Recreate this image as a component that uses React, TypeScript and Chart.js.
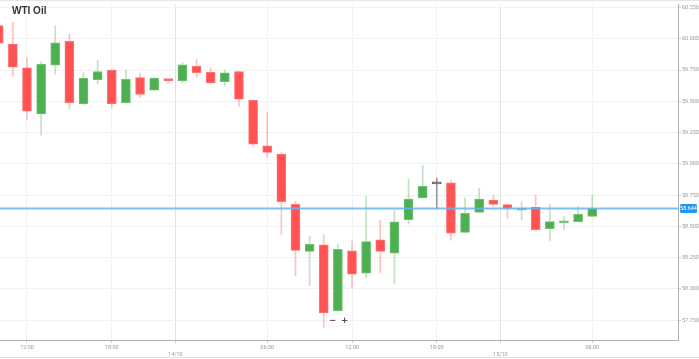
import React, { useEffect, useRef } from "react";
import { Chart, registerables } from "chart.js";

Chart.register(...registerables);

// ---- data (hourly candles, index-based x) ----
const candleIndex = [
  0, 1, 2, 3, 4, 5, 6, 7, 8, 9, 10, 11, 12, 13, 14, 15, 16, 17, 18, 19, 20, 21,
  22, 23, 24, 25, 26, 27, 28, 29, 30, 31, 32, 33, 34, 35, 36, 37, 38, 39, 40, 41, 42,
];
const opens = [
  60.105, 59.958, 59.769, 59.4, 59.789, 59.979, 59.479, 59.674, 59.75, 59.489, 59.69,
  59.589, 59.676, 59.663, 59.781, 59.732, 59.658, 59.739, 59.508, 59.145, 59.079, 58.676,
  58.3, 58.352, 57.827, 58.305, 58.126, 58.392, 58.287, 58.555, 58.727, 58.84, 58.849,
  58.453, 58.613, 58.711, 58.674, 58.63, 58.655, 58.482, 58.529, 58.539, 58.581,
];
const highs = [
  60.12, 60.132, 59.85, 59.816, 60.103, 60.039, 59.729, 59.829, 59.753, 59.75, 59.726,
  59.69, 59.68, 59.81, 59.834, 59.769, 59.75, 59.743, 59.513, 59.408, 59.09, 58.703,
  58.421, 58.434, 58.356, 58.382, 58.739, 58.55, 58.626, 58.879, 58.987, 58.887, 58.87,
  58.727, 58.805, 58.75, 58.678, 58.697, 58.75, 58.676, 58.579, 58.658, 58.75,
];
const lows = [
  59.955, 59.702, 59.35, 59.229, 59.718, 59.439, 59.475, 59.639, 59.45, 59.487, 59.532,
  59.585, 59.65, 59.65, 59.694, 59.641, 59.623, 59.461, 59.137, 59.053, 58.434, 58.105,
  58.026, 57.692, 57.821, 58.005, 58.089, 58.131, 58.04, 58.518, 58.725, 58.645, 58.391,
  58.452, 58.612, 58.658, 58.565, 58.553, 58.468, 58.387, 58.474, 58.537, 58.581,
];
const closes = [
  59.966, 59.773, 59.421, 59.797, 59.968, 59.489, 59.684, 59.739, 59.479, 59.676, 59.555,
  59.687, 59.666, 59.792, 59.729, 59.647, 59.729, 59.518, 59.158, 59.092, 58.697, 58.308,
  58.356, 57.808, 58.316, 58.119, 58.379, 58.3, 58.537, 58.719, 58.821, 58.84, 58.447,
  58.604, 58.719, 58.676, 58.644, 58.642, 58.474, 58.539, 58.539, 58.597, 58.644,
];
const currentPrice = 58.644;

const xTickPositions = [2, 8, 12.5, 19, 25, 31, 35.5, 42];
const xTickLabels = ["12:00", "18:00", "14/10", "06:00", "12:00", "18:00", "15/10", "06:00"];
const xDateLabels = ["14/10", "15/10"];
const yTickValues = [57.75, 58, 58.25, 58.5, 58.75, 59, 59.25, 59.5, 59.75, 60, 60.25];

const X_MIN = 0.09;
const X_MAX = 48.07;
const Y_MIN = 57.592;
const Y_MAX = 60.276;

const RED = "#ff5252";
const RED_BORDER = "#ff7676";
const GREEN = "#4caf50";
const GREEN_BORDER = "#72c075";
const RED_WICK = "rgba(255,82,82,0.35)";
const GREEN_WICK = "rgba(76,175,80,0.35)";
const DOJI = "#666666";
const DOJI_WICK = "#999999";
const FONT = "Roboto, 'Liberation Sans', sans-serif";

const dir = (i: number) => (closes[i] > opens[i] ? 1 : closes[i] < opens[i] ? -1 : 0);

const priceBadge = {
  id: "priceBadge",
  afterDraw(chart: any) {
    const { ctx, chartArea, scales } = chart;
    const y = scales.y.getPixelForValue(currentPrice);
    const x0 = chartArea.right + 2;
    const w = 697 - x0;
    const h = 9;
    ctx.save();
    ctx.fillStyle = "#2196f3";
    ctx.beginPath();
    (ctx as any).roundRect(x0, y - h / 2, w, h, 1.5);
    ctx.fill();
    ctx.fillStyle = "#ffffff";
    ctx.font = `5.5px ${FONT}`;
    ctx.textAlign = "center";
    ctx.textBaseline = "middle";
    ctx.fillText(currentPrice.toFixed(3), x0 + w / 2, y + 0.5);
    ctx.restore();
  },
};

export default function App() {
  const canvasRef = useRef<HTMLCanvasElement | null>(null);

  useEffect(() => {
    if (!canvasRef.current) return;
    const isDate = (v: number) => {
      const k = xTickPositions.indexOf(v);
      return k >= 0 && xDateLabels.includes(xTickLabels[k]);
    };
    const chart = new Chart(canvasRef.current, {
      type: "bar",
      data: {
        datasets: [
          {
            type: "line",
            data: [
              { x: X_MIN, y: currentPrice },
              { x: X_MAX, y: currentPrice },
            ],
            borderColor: "rgba(100,181,246,0.85)",
            borderWidth: 2,
            pointRadius: 0,
            order: 0,
          } as any,
          {
            data: candleIndex.map((i) => ({ x: i, y: [opens[i], closes[i]] })),
            backgroundColor: candleIndex.map((i) => (dir(i) > 0 ? GREEN : dir(i) < 0 ? RED : DOJI)),
            borderColor: candleIndex.map((i) =>
              dir(i) > 0 ? GREEN_BORDER : dir(i) < 0 ? RED_BORDER : DOJI
            ),
            borderWidth: 1,
            borderSkipped: false,
            barThickness: 9,
            minBarLength: 2,
            grouped: false,
            order: 1,
          } as any,
          {
            data: candleIndex.map((i) => ({ x: i, y: [lows[i], highs[i]] })),
            backgroundColor: candleIndex.map((i) =>
              dir(i) > 0 ? GREEN_WICK : dir(i) < 0 ? RED_WICK : DOJI_WICK
            ),
            borderWidth: 0,
            barThickness: 1,
            grouped: false,
            order: 2,
          } as any,
        ],
      },
      options: {
        animation: false,
        responsive: false,
        layout: { padding: 0 },
        plugins: {
          legend: { display: false },
          tooltip: { enabled: false },
          title: { display: false },
        },
        scales: {
          x: {
            type: "linear",
            min: X_MIN,
            max: X_MAX,
            offset: false,
            afterBuildTicks: (s: any) => {
              s.ticks = xTickPositions.map((v) => ({ value: v }));
            },
            afterFit: (s: any) => {
              s.height = 19;
            },
            grid: {
              offset: false,
              color: (c: any) => (c.tick && isDate(c.tick.value) ? "#e2e2e2" : "#f2f2f2"),
              tickColor: "#cccccc",
              tickLength: 3,
            },
            border: { color: "#b0b0b0" },
            ticks: {
              autoSkip: false,
              maxRotation: 0,
              padding: 1,
              color: "#999999",
              font: { size: 5.5, family: FONT, lineHeight: 1.25 },
              callback: (v: any, idx: number) => {
                const lab = xTickLabels[idx];
                return xDateLabels.includes(lab) ? ["", lab] : lab;
              },
            },
          },
          y: {
            type: "linear",
            position: "right",
            min: Y_MIN,
            max: Y_MAX,
            afterBuildTicks: (s: any) => {
              s.ticks = yTickValues.map((v) => ({ value: v }));
            },
            afterFit: (s: any) => {
              s.width = 21;
            },
            grid: { color: "#f2f2f2", tickColor: "#cccccc", tickLength: 3 },
            border: { color: "#b0b0b0" },
            ticks: {
              padding: 1,
              color: "#999999",
              font: { size: 5.5, family: FONT },
              callback: (v: any) => Number(v).toFixed(3),
            },
          },
        },
      } as any,
      plugins: [priceBadge],
    });
    return () => chart.destroy();
  }, []);

  return (
    <div
      style={{
        position: "fixed",
        left: 0,
        top: 0,
        width: 699,
        height: 359,
        background: "#ffffff",
        overflow: "hidden",
      }}
    >
      <canvas ref={canvasRef} width={699} height={359} style={{ display: "block" }} />
      <div
        style={{
          position: "absolute",
          left: 0,
          top: 0,
          width: 699,
          height: 0,
          borderTop: "1px solid #e6e6e6",
        }}
      />
      <div
        style={{
          position: "absolute",
          left: 0,
          top: 357,
          width: 699,
          height: 0,
          borderTop: "1px solid #e0e0e0",
        }}
      />
      <div
        style={{
          position: "absolute",
          left: 12,
          top: 5,
          font: "bold 10px 'Liberation Sans', Arial, sans-serif",
          color: "#333333",
          whiteSpace: "nowrap",
        }}
      >
        WTI Oil
      </div>
      <div
        style={{
          position: "absolute",
          left: 327,
          top: 315,
          display: "flex",
          gap: 1,
          background: "#ffffff",
          boxShadow: "0 0 1px rgba(0,0,0,0.35)",
          borderRadius: 1,
        }}
      >
        {["−", "+"].map((t) => (
          <div
            key={t}
            style={{
              width: 11,
              height: 10,
              lineHeight: "10px",
              textAlign: "center",
              font: "bold 9px 'DejaVu Sans', sans-serif",
              color: "#555555",
              background: "#ffffff",
            }}
          >
            {t}
          </div>
        ))}
      </div>
    </div>
  );
}
